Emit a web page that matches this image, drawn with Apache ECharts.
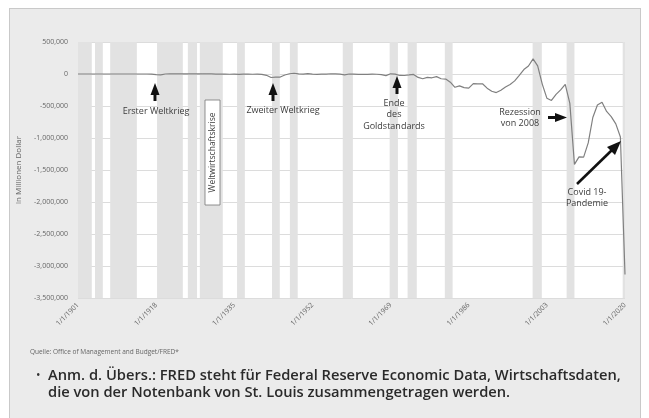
<!DOCTYPE html>
<html><head><meta charset="utf-8">
<script src="https://cdn.jsdelivr.net/npm/echarts@6/dist/echarts.min.js"></script>
<style>
html,body{margin:0;padding:0;background:#fff;}
#frame{position:absolute;left:9px;top:8px;width:630px;height:420px;background:#ebebeb;border:1px solid #c9c9c9;}
#c{position:absolute;left:0;top:0;width:649px;height:418px;}
</style>
</head><body><div id="frame"></div><div id="c"></div>
<script>
// Fiscal years
const years = [];
for (let y = 1901; y <= 2020; y++) years.push(y);
// Federal surplus (+) / deficit (-), millions of dollars
const balance = [
  63, 77, 45, -43, -23, 25, 87, -57, -89, -18,
  11, 3, 0, 0, -63, 48, -853, -9032, -13363, 291,
  509, 736, 713, 963, 717, 865, 1155, 939, 734, 738,
  -462, -2735, -2602, -3630, -2791, -4425, -2777, -1177, -3862, -2920,
  -4941, -20503, -54554, -47557, -47553, -15936, 4018, 11796, 580, -3119,
  6102, -1519, -6493, -1154, -2993, 3947, 3412, -2769, -12849, 301,
  -3335, -7146, -4756, -5915, -1411, -3698, -8643, -25161, 3242, -2842,
  -23033, -23373, -14908, -6135, -53242, -73732, -53659, -59185, -40726, -73830,
  -78968, -127977, -207802, -185367, -212308, -221227, -149730, -155178, -152639, -221036,
  -269238, -290321, -255051, -203186, -163952, -107431, -21884, 69270, 125610, 236241,
  128236, -157758, -377585, -412727, -318346, -248181, -160701, -458553, -1412688, -1294373,
  -1299599, -1076573, -679775, -484793, -441960, -584651, -665446, -779137, -983594, -3131917
];
// Shaded recession periods (start year, end year)
const recessions = [
  [1901.0, 1904.0], [1904.7, 1906.4], [1908.0, 1913.8], [1918.2, 1923.8],
  [1924.9, 1926.9], [1927.5, 1932.5], [1935.6, 1937.3], [1943.2, 1944.9],
  [1947.1, 1948.8], [1958.6, 1960.8], [1968.8, 1970.6], [1972.7, 1974.7],
  [1980.8, 1982.5], [1999.9, 2001.9], [2007.3, 2009.0], [2019.5, 2020.5]
];
const baseYear = 1901;
const tickStep = 17;
const yMin = -3500000, yMax = 500000, yStep = 500000;

const chart = echarts.init(document.getElementById('c'), null, {renderer: 'canvas'});
const txt = '#3c3c3c';
const FONT = 'Open Sans';

function upArrow(x, tip, base) {
  return {
    type: 'group', z: 100, children: [
      {type: 'polygon', z: 100, shape: {points: [[x, tip], [x - 4.5, tip + 12], [x + 4.5, tip + 12]]}, style: {fill: '#111'}},
      {type: 'rect', z: 100, shape: {x: x - 1.5, y: tip + 10, width: 3, height: base - tip - 10}, style: {fill: '#111'}}
    ]
  };
}
function textEl(x, y, s, align, size) {
  return {type: 'text', z: 100, x: x, y: y, style: {text: s, fill: txt, font: (size || 9) + 'px "' + FONT + '"', align: align || 'center', verticalAlign: 'middle'}};
}

const option = {
  backgroundColor: 'transparent',
  animation: false,
  grid: {left: 78, right: 24, top: 42, bottom: 120, show: true, backgroundColor: '#ffffff', borderWidth: 0},
  xAxis: {
    type: 'value', min: 0, max: years[years.length - 1] - baseYear, interval: tickStep,
    axisLine: {show: false}, axisTick: {show: false}, splitLine: {show: false},
    axisLabel: {rotate: 45, fontSize: 7, color: '#666', fontFamily: FONT, margin: 6,
      formatter: v => '1/1/' + (baseYear + v)}
  },
  yAxis: {
    type: 'value', min: yMin, max: yMax, interval: yStep,
    name: 'in Millionen Dollar', nameLocation: 'middle', nameGap: 54, nameRotate: 90,
    nameTextStyle: {fontSize: 8, color: '#666', fontFamily: FONT},
    axisLine: {show: false}, axisTick: {show: false},
    splitLine: {lineStyle: {color: '#dcdcdc', width: 1}},
    axisLabel: {fontSize: 7, color: '#666', fontFamily: FONT, margin: 10,
      formatter: v => v.toLocaleString('en-US')}
  },
  series: [{
    type: 'line', showSymbol: false, z: 5,
    data: years.map((y, i) => [y - baseYear, balance[i]]),
    lineStyle: {color: '#808080', width: 1.2},
    markArea: {
      silent: true,
      itemStyle: {color: '#e2e2e2'},
      data: recessions.map(r => [{xAxis: r[0] - baseYear}, {xAxis: r[1] - baseYear}])
    }
  }],
  graphic: [
    upArrow(155, 83, 101),
    textEl(156, 111, 'Erster Weltkrieg'),
    {type: 'rect', z: 100, shape: {x: 205, y: 100, width: 15, height: 105}, style: {fill: '#fff', stroke: '#777', lineWidth: 0.8}},
    {type: 'text', z: 101, x: 212.5, y: 152.5, rotation: Math.PI / 2,
      style: {text: 'Weltwirtschaftskrise', fill: txt, font: '8.5px "' + FONT + '"', align: 'center', verticalAlign: 'middle'}},
    upArrow(273, 83, 101),
    textEl(283, 110, 'Zweiter Weltkrieg'),
    upArrow(397, 76, 94),
    textEl(394, 103, 'Ende'),
    textEl(394, 114, 'des'),
    textEl(394, 126, 'Goldstandards'),
    textEl(520, 112, 'Rezession'),
    textEl(520, 123, 'von 2008'),
    {type: 'group', z: 100, children: [
      {type: 'rect', z: 100, shape: {x: 548, y: 116, width: 9, height: 3}, style: {fill: '#111'}},
      {type: 'polygon', z: 100, shape: {points: [[567, 117.5], [555, 113], [555, 122]]}, style: {fill: '#111'}}
    ]},
    textEl(587, 192, 'Covid 19-'),
    textEl(587, 203, 'Pandemie'),
    {type: 'group', z: 100, children: [
      {type: 'line', z: 100, shape: {x1: 577, y1: 184, x2: 612, y2: 150}, style: {stroke: '#111', lineWidth: 2.6}},
      {type: 'polygon', z: 100, shape: {points: [[621, 141], [607, 147], [615, 155]]}, style: {fill: '#111'}}
    ]},
    {type: 'text', z: 100, x: 30, y: 352, style: {text: 'Quelle: Office of Management and Budget/FRED*', fill: '#666', font: '6.5px "' + FONT + '"', verticalAlign: 'middle'}},
    {type: 'text', z: 100, x: 36, y: 376, style: {text: '•', fill: '#333', font: '12px "' + FONT + '"', verticalAlign: 'middle'}},
    {type: 'text', z: 100, x: 48, y: 376, style: {text: 'Anm. d. Übers.: FRED steht für Federal Reserve Economic Data, Wirtschaftsdaten,', fill: '#2a2a2a', font: '600 14.7px "' + FONT + '"', verticalAlign: 'middle'}},
    {type: 'text', z: 100, x: 48, y: 393, style: {text: 'die von der Notenbank von St. Louis zusammengetragen werden.', fill: '#2a2a2a', font: '600 14.7px "' + FONT + '"', verticalAlign: 'middle'}}
  ]
};
chart.setOption(option);
</script>
</body></html>
